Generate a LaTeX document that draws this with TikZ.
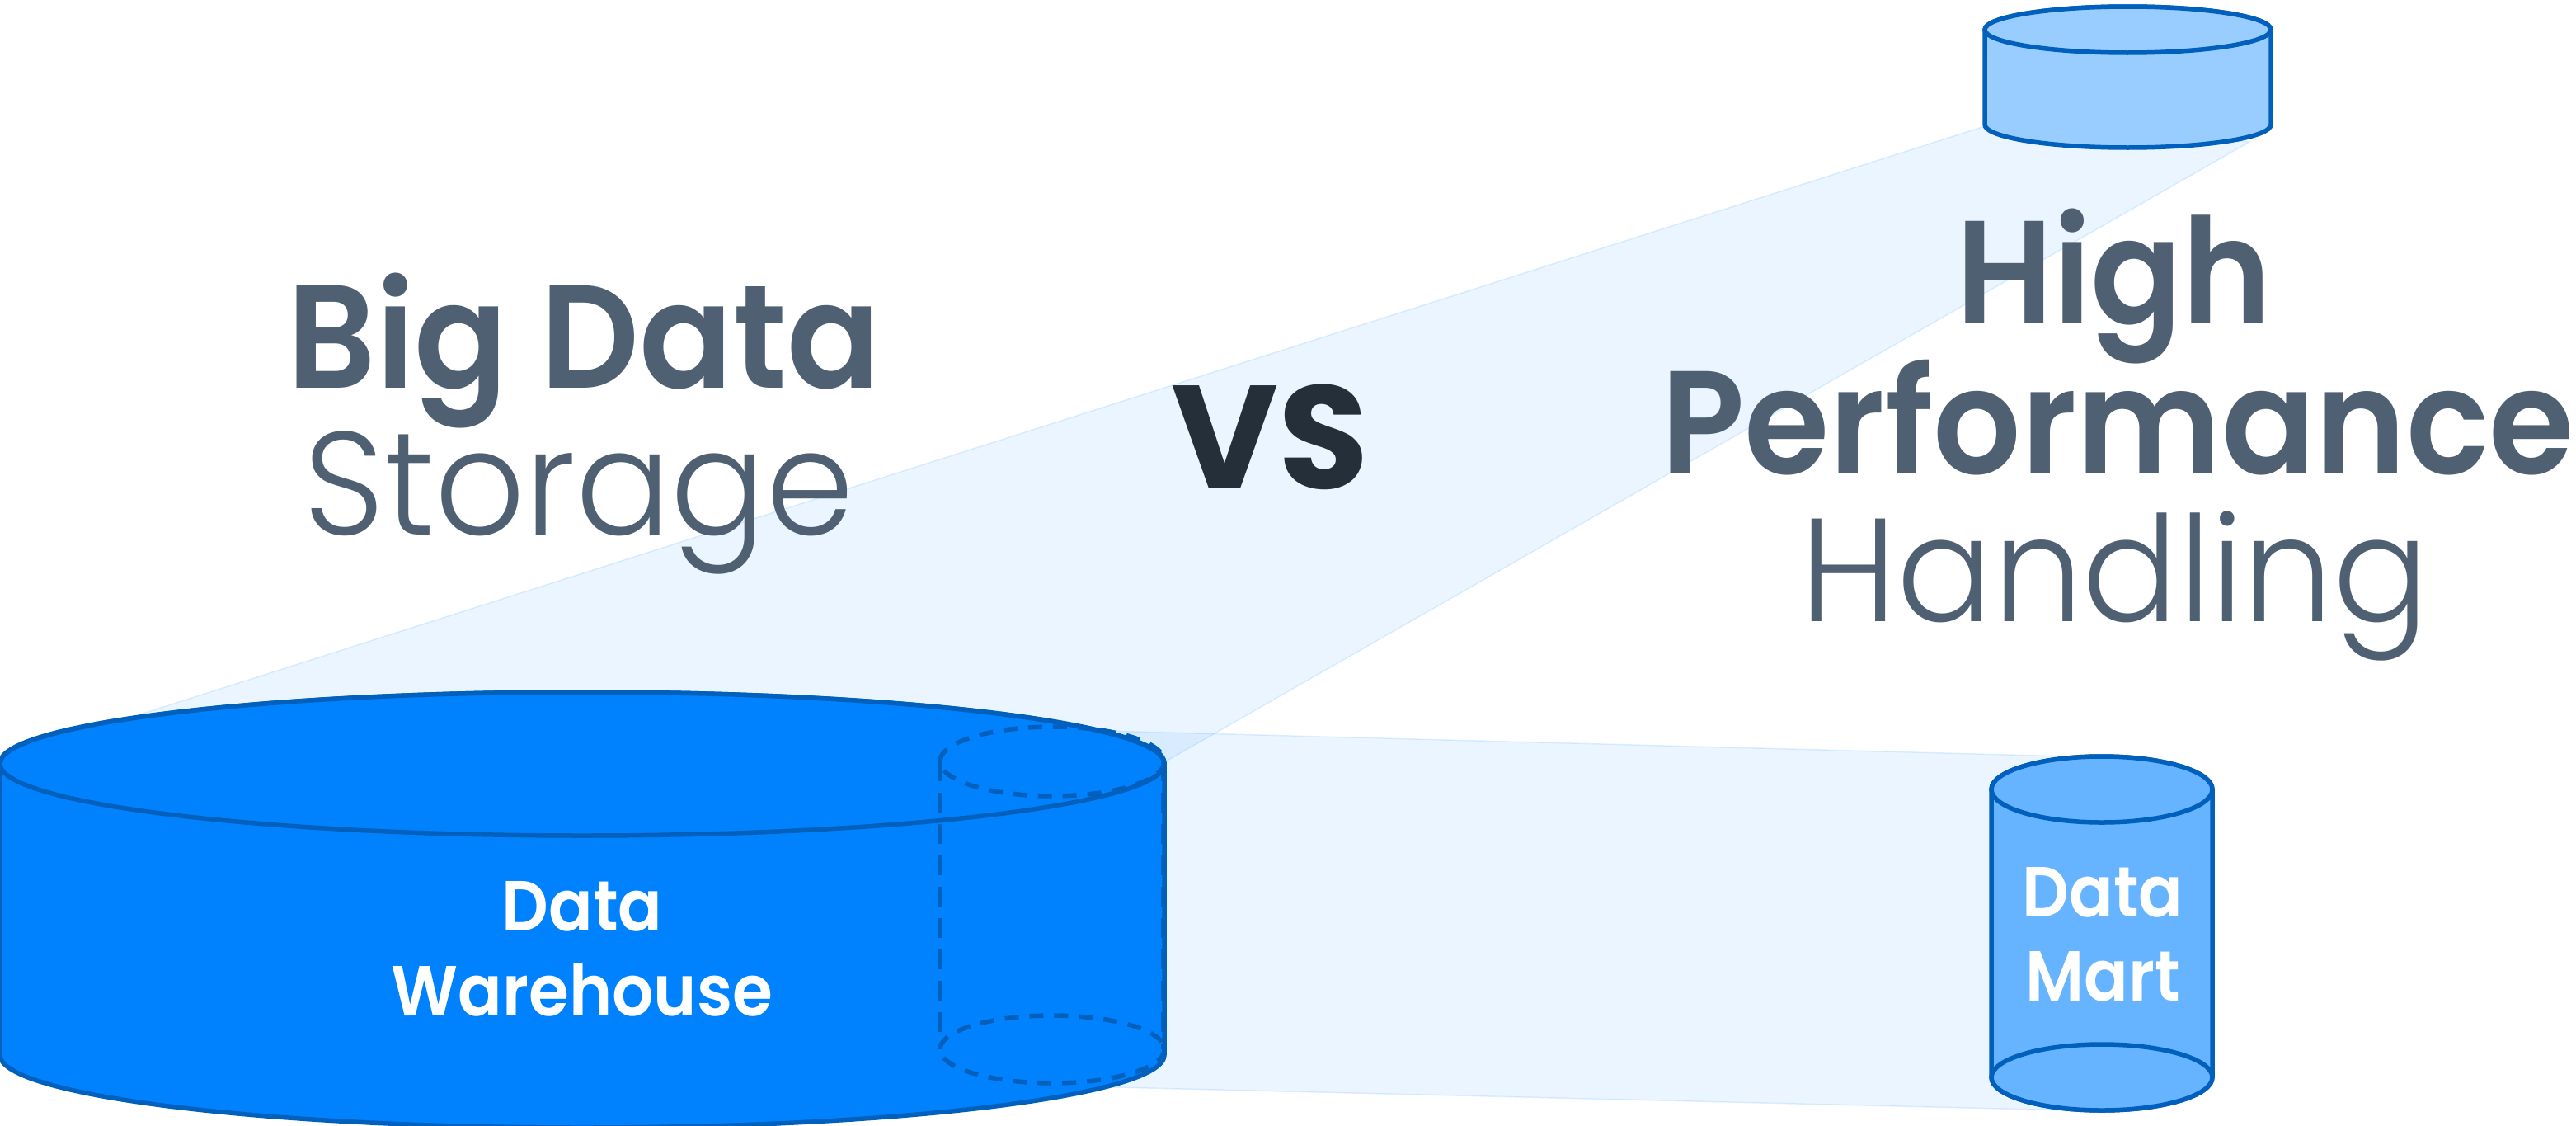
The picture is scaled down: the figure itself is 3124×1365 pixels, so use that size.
\documentclass[tikz,border=0pt]{standalone}
\usepackage{fontspec}
\setmainfont{Poppins}
\newfontfamily\thinfont{Poppins Light}
\newfontfamily\boldfont{Poppins SemiBold}
\newfontfamily\vsfont{Poppins Bold}
\newfontfamily\midfont{Poppins SemiBold}
\definecolor{bandblue}{HTML}{0080FF}
\definecolor{edgeblue}{HTML}{0060BB}
\definecolor{slate}{HTML}{4F6072}
\definecolor{inkdark}{HTML}{252F3A}
\definecolor{dwfill}{HTML}{0082FF}
\definecolor{topfill}{HTML}{99CCFF}
\definecolor{martfill}{HTML}{66B3FF}
\tikzset{
  band/.style={fill=bandblue,fill opacity=.08,draw=bandblue,draw opacity=.12,line width=1.5pt},
  cyl/.style={draw=edgeblue,line width=5.5pt,line join=round},
  dashring/.style={draw=edgeblue,line width=5.5pt,dash pattern=on 17pt off 13pt},
  dashline/.style={draw=edgeblue,line width=4.5pt,dash pattern=on 24pt off 14pt},
  heading/.style={anchor=base,inner sep=0pt,outer sep=0pt,text=slate},
  whitelabel/.style={anchor=base,inner sep=0pt,outer sep=0pt,text=white},
}
\begin{document}
\begin{tikzpicture}[x=1pt,y=-1pt]
\useasboundingbox (0,0) rectangle (3124,1365);
% anchor points of the translucent bands
\coordinate (dwTL) at (170,866);
\coordinate (dwTR) at (1412,924);
\coordinate (hiL) at (2407,153);
\coordinate (hiR) at (2728,172);
\coordinate (dwUp) at (1300,885);
\coordinate (maTL) at (2510,917);
\coordinate (maBL) at (2510,1346);
\coordinate (dwLo) at (1350,1318);
\path[band] (dwTL) -- (hiL) -- (hiR) -- (dwTR) -- cycle;
\path[band] (dwUp) -- (maTL) -- (maBL) -- (dwLo) -- cycle;
% large cylinder
\path[cyl,fill=dwfill] (0,925) -- (0,1279) arc[start angle=180,end angle=0,x radius=706,y radius=88] -- (1412,925) arc[start angle=0,end angle=-180,x radius=706,y radius=86] -- cycle;
\path[cyl,fill=dwfill] (706,926) ellipse[x radius=706,y radius=87];
\draw[dashring] (1276,923) ellipse[x radius=136,y radius=42];
\draw[dashring] (1276,1272) ellipse[x radius=136,y radius=41];
\draw[dashline] (1140,923) -- (1140,1272);
\draw[dashline] (1410,923) -- (1410,1272);
% top cylinder
\path[cyl,fill=topfill] (2407,36) -- (2407,151) arc[start angle=180,end angle=0,x radius=173.5,y radius=28] -- (2754,36) arc[start angle=0,end angle=-180,x radius=173.5,y radius=28] -- cycle;
\path[cyl,fill=topfill] (2580.5,36) ellipse[x radius=173.5,y radius=28];
% data mart cylinder
\path[cyl,fill=martfill] (2415,957) -- (2415,1306) arc[start angle=180,end angle=0,x radius=134,y radius=40] -- (2683,957) arc[start angle=0,end angle=-180,x radius=134,y radius=40] -- cycle;
\path[cyl,fill=martfill] (2549,957) ellipse[x radius=134,y radius=40];
\path[cyl,fill=martfill] (2549,1306) ellipse[x radius=134,y radius=40];
% texts
\node[heading] (bigdata) at (708,470) {\scalebox{.94}[1]{\fontsize{178}{178}\boldfont Big Data}};
\node[heading] (storage) at (702,648) {\scalebox{.96}[1]{\fontsize{178}{178}\thinfont Storage}};
\node[heading,text=inkdark] (vs) at (1540,592) {\fontsize{178}{178}\vsfont VS};
\node[heading] (high) at (2564,392) {\scalebox{.92}[1]{\fontsize{178}{178}\boldfont High}};
\node[heading] (perf) at (2568,574) {\scalebox{.94}[1]{\fontsize{178}{178}\boldfont Performance}};
\node[heading] (hand) at (2565,753) {\scalebox{.967}[1]{\fontsize{178}{178}\thinfont Handling}};
\node[whitelabel] (d1) at (706,1128) {\scalebox{.92}[1]{\fontsize{86}{86}\midfont Data}};
\node[whitelabel] (w1) at (706,1231) {\scalebox{.92}[1]{\fontsize{86}{86}\midfont Warehouse}};
\node[whitelabel] (d2) at (2550,1111) {\scalebox{.92}[1]{\fontsize{86}{86}\midfont Data}};
\node[whitelabel] (m2) at (2550,1213) {\scalebox{.92}[1]{\fontsize{86}{86}\midfont Mart}};
\end{tikzpicture}
\end{document}
